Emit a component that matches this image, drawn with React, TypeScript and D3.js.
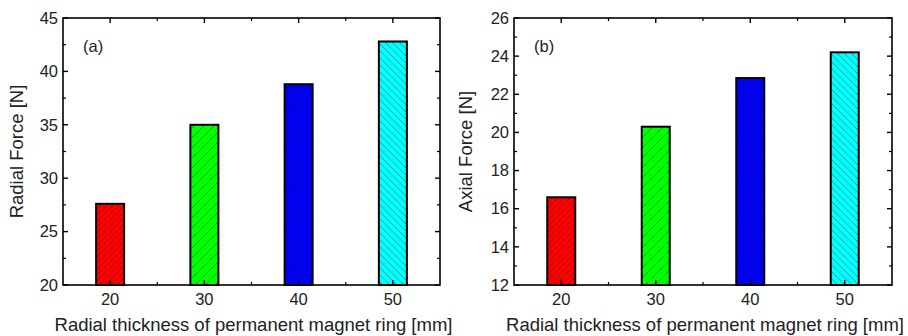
import React from "react";
import * as d3 from "d3";

const categories = [20, 30, 40, 50];
const radialForce = [27.6, 35.0, 38.8, 42.8];
const axialForce = [16.6, 20.3, 22.85, 24.2];
const radialTicks = [20, 25, 30, 35, 40, 45];
const axialTicks = [12, 14, 16, 18, 20, 22, 24, 26];
const barColors = ["#ff0000", "#00ff00", "#0000ff", "#00ffff"];
const hatchDirs = [1, 1, -1, -1];
const hatchGaps = [6, 10, 5, 7];
const xLabel = "Radial thickness of permanent magnet ring [mm]";

const FONT = "Arial, 'Liberation Sans', sans-serif";

type PanelProps = {
  id: string;
  x0: number;
  x1: number;
  values: number[];
  yDomain: [number, number];
  yTicks: number[];
  yLabel: string;
  tag: string;
  yLabelX: number;
};

function Panel({ id, x0, x1, values, yDomain, yTicks, yLabel, tag, yLabelX }: PanelProps) {
  const top = 18;
  const bottom = 285;
  const x = d3.scaleLinear().domain([15, 55]).range([x0, x1]);
  const y = d3.scaleLinear().domain(yDomain).range([bottom, top]);
  const barW = 28;
  const step = yTicks[1] - yTicks[0];
  const minorY = yTicks.slice(0, -1).map((t) => t + step / 2);
  const minorX = [25, 35, 45];
  return (
    <g>
      <defs>
        {categories.map((c, i) => {
          const g = hatchGaps[i];
          return (
            <pattern key={c} id={`${id}-h${i}`} patternUnits="userSpaceOnUse" width={g} height={g}>
              <rect width={g} height={g} fill={barColors[i]} />
              {hatchDirs[i] > 0 ? (
                <path d={`M0,${g} L${g},0 M${-g},${g} L0,0 M${g},${2 * g} L${2 * g},${g}`} stroke="#000" strokeOpacity={0.45} strokeWidth={0.8} />
              ) : (
                <path d={`M0,0 L${g},${g} M${-g},0 L0,${g} M${g},0 L${2 * g},${g}`} stroke="#000" strokeOpacity={0.45} strokeWidth={0.8} />
              )}
            </pattern>
          );
        })}
      </defs>
      {categories.map((c, i) => (
        <rect
          key={c}
          x={x(c) - barW / 2}
          y={y(values[i])}
          width={barW}
          height={y(yDomain[0]) - y(values[i])}
          fill={`url(#${id}-h${i})`}
          stroke="#000"
          strokeWidth={2}
        />
      ))}
      <rect x={x0} y={top} width={x1 - x0} height={bottom - top} fill="none" stroke="#000" strokeWidth={1.6} />
      {yTicks.map((t) => (
        <g key={`y${t}`}>
          <line x1={x0} x2={x0 + 5} y1={y(t)} y2={y(t)} stroke="#000" strokeWidth={1.4} />
          <line x1={x1} x2={x1 - 5} y1={y(t)} y2={y(t)} stroke="#000" strokeWidth={1.4} />
          <text x={x0 - 5} y={y(t)} dy="0.35em" textAnchor="end" fontSize={16.5} fontFamily={FONT} fill="#222">
            {t}
          </text>
        </g>
      ))}
      {minorY.map((t) => (
        <g key={`ym${t}`}>
          <line x1={x0} x2={x0 + 3} y1={y(t)} y2={y(t)} stroke="#000" strokeWidth={1.2} />
          <line x1={x1} x2={x1 - 3} y1={y(t)} y2={y(t)} stroke="#000" strokeWidth={1.2} />
        </g>
      ))}
      {categories.map((c) => (
        <g key={`x${c}`}>
          <line x1={x(c)} x2={x(c)} y1={bottom} y2={bottom - 5} stroke="#000" strokeWidth={1.4} />
          <line x1={x(c)} x2={x(c)} y1={top} y2={top + 5} stroke="#000" strokeWidth={1.4} />
          <text x={x(c)} y={bottom + 14} dy="0.35em" textAnchor="middle" fontSize={16.5} fontFamily={FONT} fill="#222">
            {c}
          </text>
        </g>
      ))}
      {minorX.map((c) => (
        <g key={`xm${c}`}>
          <line x1={x(c)} x2={x(c)} y1={bottom} y2={bottom - 3} stroke="#000" strokeWidth={1.2} />
          <line x1={x(c)} x2={x(c)} y1={top} y2={top + 3} stroke="#000" strokeWidth={1.2} />
        </g>
      ))}
      <text x={x0 + 20} y={46} dy="0.35em" fontSize={16.5} fontFamily={FONT} fill="#222">
        {tag}
      </text>
      <text
        transform={`translate(${yLabelX},${(top + bottom) / 2}) rotate(-90)`}
        textAnchor="middle"
        dy="0.35em"
        fontSize={18.5}
        fontFamily={FONT}
        fill="#222"
      >
        {yLabel}
      </text>
      <text x={(x0 + x1) / 2 + 2} y={325} dy="0.35em" textAnchor="middle" fontSize={18.5} fontFamily={FONT} fill="#222">
        {xLabel}
      </text>
    </g>
  );
}

export default function App() {
  return (
    <svg width={908} height={336} style={{ position: "absolute", left: 0, top: 0, background: "#fff" }}>
      <rect width={908} height={336} fill="#fff" />
      <Panel
        id="a"
        x0={63}
        x1={440}
        values={radialForce}
        yDomain={[20, 45]}
        yTicks={radialTicks}
        yLabel="Radial Force [N]"
        tag="(a)"
        yLabelX={17}
      />
      <Panel
        id="b"
        x0={514}
        x1={892}
        values={axialForce}
        yDomain={[12, 26]}
        yTicks={axialTicks}
        yLabel="Axial Force [N]"
        tag="(b)"
        yLabelX={466}
      />
    </svg>
  );
}
